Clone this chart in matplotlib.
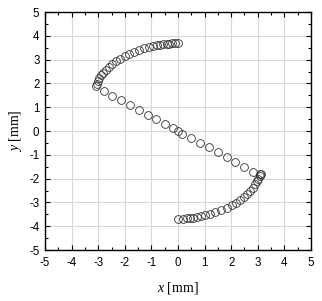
import matplotlib
matplotlib.use("Agg")
import matplotlib.pyplot as plt
from matplotlib.ticker import MultipleLocator

plt.rcParams['font.family'] = ['Liberation Sans', 'DejaVu Sans']
plt.rcParams['mathtext.fontset'] = 'custom'
plt.rcParams['mathtext.rm'] = 'Liberation Serif'
plt.rcParams['mathtext.it'] = 'Liberation Serif:italic'

# upper arc
x_upper = [-0.01, -0.11, -0.21, -0.33, -0.43, -0.55, -0.68, -0.80, -0.95, -1.10,
           -1.28, -1.45, -1.64, -1.83, -2.01, -2.18, -2.34, -2.48, -2.61, -2.72,
           -2.81, -2.88, -2.96, -3.01, -3.06, -3.10]
y_upper = [3.68, 3.68, 3.68, 3.67, 3.66, 3.64, 3.63, 3.60, 3.57, 3.53,
           3.47, 3.42, 3.33, 3.25, 3.15, 3.04, 2.94, 2.82, 2.69, 2.58,
           2.45, 2.34, 2.21, 2.10, 1.99, 1.88]
# diagonal
x_diag = [-2.79, -2.47, -2.13, -1.79, -1.48, -1.14, -0.81, -0.49, -0.18, 0.01,
          0.16, 0.50, 0.84, 1.18, 1.50, 1.83, 2.16, 2.48, 2.82, 3.08]
y_diag = [1.70, 1.49, 1.30, 1.09, 0.88, 0.69, 0.49, 0.29, 0.11, 0.01,
          -0.13, -0.28, -0.49, -0.69, -0.90, -1.11, -1.29, -1.50, -1.71, -1.82]
# lower arc
x_lower = [0.00, 0.20, 0.33, 0.45, 0.58, 0.70, 0.85, 1.02, 1.20, 1.40,
           1.62, 1.83, 2.02, 2.18, 2.33, 2.47, 2.59, 2.71, 2.81, 2.90,
           2.96, 3.02, 3.07, 3.11]
y_lower = [-3.68, -3.68, -3.67, -3.66, -3.64, -3.61, -3.59, -3.54, -3.49, -3.42,
           -3.33, -3.24, -3.11, -3.01, -2.89, -2.76, -2.63, -2.51, -2.38, -2.24,
           -2.12, -2.00, -1.91, -1.82]

ticks = [-5, -4, -3, -2, -1, 0, 1, 2, 3, 4, 5]

fig = plt.figure(figsize=(3.22, 3.01), dpi=100)
ax = fig.add_axes([0.1398, 0.1694, 0.826, 0.7907])

for xs, ys in [(x_upper, y_upper), (x_diag, y_diag), (x_lower, y_lower)]:
    ax.plot(xs, ys, linestyle='none', marker='o', markersize=5.6,
            markerfacecolor='none', markeredgecolor='#333333', markeredgewidth=0.6)

ax.set_xlim(-5, 5)
ax.set_ylim(-5, 5)
ax.set_xticks(ticks)
ax.set_yticks(ticks)
ax.set_xticklabels([str(t) for t in ticks])
ax.set_yticklabels([str(t) for t in ticks])
ax.xaxis.set_minor_locator(MultipleLocator(0.5))
ax.yaxis.set_minor_locator(MultipleLocator(0.5))
ax.grid(True, which='major', color='#d8d8d8', linewidth=0.8)
ax.set_axisbelow(True)
ax.tick_params(which='both', direction='in', top=True, right=True, labelsize=8.3,
               width=0.8)
ax.tick_params(axis='x', which='major', pad=5)
ax.tick_params(axis='y', which='major', pad=4)
ax.tick_params(which='major', length=3.5)
ax.tick_params(which='minor', length=2)
for s in ax.spines.values():
    s.set_linewidth(1.0)

ax.set_xlabel(r'$x$ [mm]', fontsize=10, family='Liberation Serif', labelpad=8)
ax.set_ylabel(r'$y$ [mm]', fontsize=10, family='Liberation Serif', labelpad=4)

fig.savefig('out.png', dpi=100)
